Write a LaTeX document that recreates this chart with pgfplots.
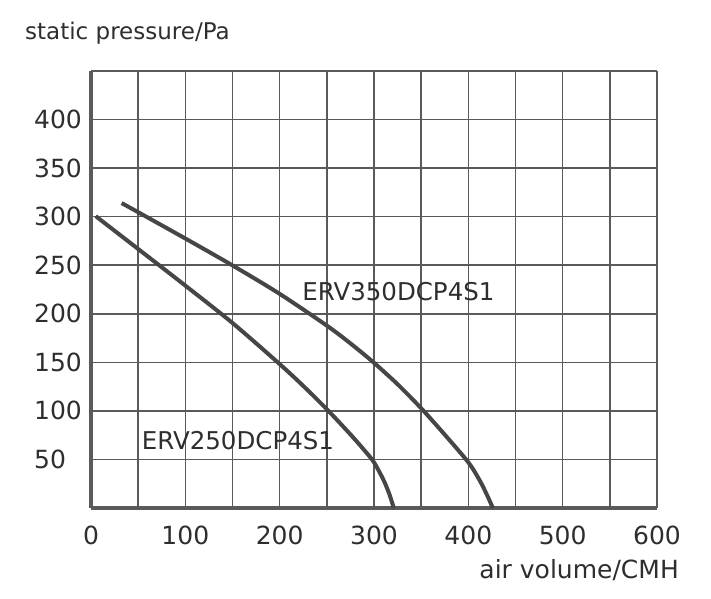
\documentclass[border=0pt]{standalone}
\usepackage{pgfplots}
\pgfplotsset{compat=1.18}
\usepackage{fontspec}
\setmainfont{DejaVu Sans}
\definecolor{txt}{HTML}{2E2E2E}
\definecolor{gridc}{HTML}{5A5A5A}
\definecolor{curve}{HTML}{464646}

\begin{document}
\begin{tikzpicture}
% page = reference image, 1px = 1bp, axis box south west at (0,0)
\path[use as bounding box] (-91bp,-91bp) rectangle (620bp,508bp);
\begin{axis}[
  scale only axis,
  width=566bp, height=437bp,
  xmin=0, xmax=600, ymin=0, ymax=450,
  axis lines=left,
  axis line style={-, line width=3.6bp, gridc},
  xtick={0,100,...,600}, minor xtick={50,150,...,550},
  ytick={50,100,...,400}, minor ytick={450},
  grid=both,
  major grid style={line width=1.5bp, gridc},
  minor grid style={line width=1.5bp, gridc},
  major tick length=0pt, minor tick length=0pt,
  tick style={draw=none},
  /pgf/number format/assume math mode=true,
  ticklabel style={font=\fontsize{25bp}{30bp}\selectfont, text=txt, inner sep=0pt},
  xticklabel style={anchor=north, yshift=-18bp},
  yticklabel style={anchor=west, xshift=-57bp},
  clip=false,
]
% ERV250DCP4S1
\addplot[curve, line width=4bp, smooth] coordinates {
  (5,300.5) (50,266.7) (100,229) (150,190.5) (200,148.2) (225,125.7) (250,101.7)
  (275,75.8) (290,59.2) (300,47) (310,29) (316,15) (321,0)
};
% ERV350DCP4S1
\addplot[curve, line width=4bp, smooth] coordinates {
  (32.5,314) (50,304.6) (100,277.5) (150,249.8) (200,220.5) (250,187.8) (275,169.5)
  (300,149.5) (325,127.4) (350,102.7) (375,75.5) (400,47) (412,28.5) (419.5,14) (426,0)
};
\node[anchor=base west, inner sep=0pt, text=txt, font=\fontsize{24.5bp}{29bp}\selectfont]
  at (axis cs:223.8,213.3) {ERV350DCP4S1};
\node[anchor=base west, inner sep=0pt, text=txt, font=\fontsize{24.5bp}{29bp}\selectfont]
  at (axis cs:53.7,60.4) {ERV250DCP4S1};
\end{axis}
\node[anchor=base west, inner sep=0pt, text=txt, font=\fontsize{23bp}{28bp}\selectfont]
  at (-66bp,468.7bp) {static pressure/Pa};
\node[anchor=base east, inner sep=0pt, text=txt, font=\fontsize{25bp}{30bp}\selectfont]
  at (588bp,-70.3bp) {air volume/CMH};
\end{tikzpicture}
\end{document}
